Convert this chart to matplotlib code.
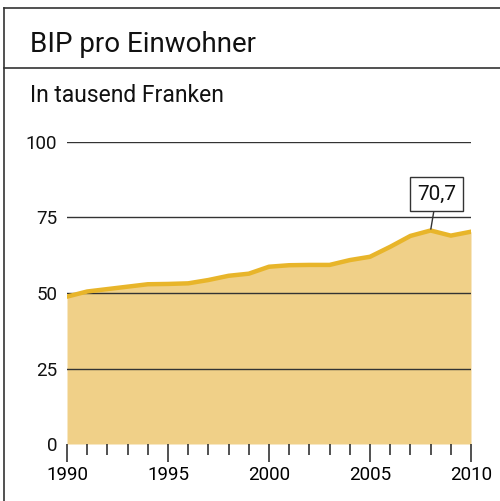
import matplotlib
matplotlib.use("Agg")
import matplotlib.pyplot as plt
from matplotlib import font_manager

years = list(range(1990, 2011))
values = [48.8, 50.5, 51.3, 52.1, 52.9, 53.0, 53.2, 54.3, 55.7, 56.4, 58.7,
          59.2, 59.3, 59.3, 60.9, 62.0, 65.3, 68.9, 70.7, 69.0, 70.3]
y_ticks = [0, 25, 50, 75, 100]
x_ticks = [1990, 1995, 2000, 2005, 2010]
title = "BIP pro Einwohner"
subtitle = "In tausend Franken"
peak_label = "70,7"

names = {f.name for f in font_manager.fontManager.ttflist}
fam = ["Liberation Sans Narrow", "DejaVu Sans"] if "Liberation Sans Narrow" in names else ["Roboto", "DejaVu Sans"]
plt.rcParams['font.family'] = fam

W, H = 500, 501
fig = plt.figure(figsize=(W / 100, H / 100), dpi=100)

# frame lines
fig.add_artist(plt.Line2D([4 / W, 4 / W], [0, 1 - 8 / H], color="#333333", lw=1.2))
fig.add_artist(plt.Line2D([4 / W, 1], [1 - 8 / H, 1 - 8 / H], color="#333333", lw=1.2))
fig.add_artist(plt.Line2D([4 / W, 1], [1 - 68 / H, 1 - 68 / H], color="#333333", lw=1.2))

fig.text(30 / W, 1 - 52 / H, title, fontsize=20, color="#111111", va="baseline")
fig.text(30 / W, 1 - 102 / H, subtitle, fontsize=16.5, color="#111111", va="baseline")

ax = fig.add_axes([67 / W, 1 - 444 / H, (471 - 67) / W, (444 - 142) / H])
ax.set_xlim(1990, 2010)
ax.set_ylim(0, 100)
ax.fill_between(years, values, 0, color="#f0d088", lw=0, zorder=1)
for v in y_ticks[1:]:
    ax.axhline(v, color="#333333", lw=1.0, zorder=2)
ax.plot(years, values, color="#e8b52a", lw=3.2, zorder=3, solid_joinstyle="round")

for s in ax.spines.values():
    s.set_visible(False)
ax.set_yticks(y_ticks)
ax.set_yticklabels([str(v) for v in y_ticks])
ax.tick_params(axis="y", length=0, pad=7, labelsize=13.5, colors="#111111")
ax.set_xticks(x_ticks)
ax.set_xticks(years, minor=True)
ax.tick_params(axis="x", which="major", length=13, width=1.2, color="#333333", labelsize=13.5, pad=3)
ax.tick_params(axis="x", which="minor", length=8, width=1.2, color="#333333")

# peak annotation
pi = values.index(max(values))
ax.annotate(peak_label, xy=(years[pi], values[pi]), xytext=(years[pi] + 0.3, values[pi] + 12),
            ha="center", va="center", fontsize=15, color="#111111",
            bbox=dict(boxstyle="square,pad=0.35", fc="white", ec="#333333", lw=1.0),
            arrowprops=dict(arrowstyle="-", color="#333333", lw=1.0, shrinkA=0, shrinkB=1),
            zorder=5)

fig.savefig("out.png", dpi=100)
